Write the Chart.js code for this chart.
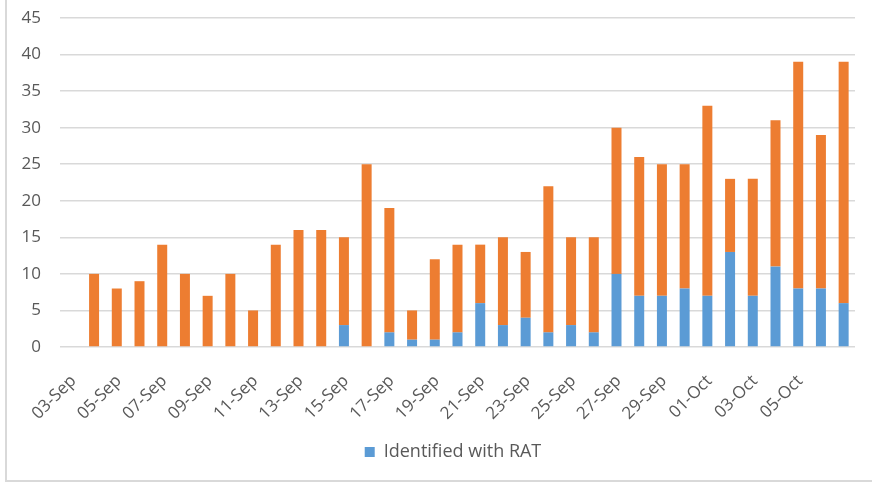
<!DOCTYPE html>
<html>
<head>
<meta charset="utf-8">
<script src="https://cdn.jsdelivr.net/npm/chart.js@4/dist/chart.umd.min.js"></script>
<style>
    body { margin: 0; background: #ffffff; }
    #wrap {
        position: absolute;
        left: 5px;
        top: 0;
        width: 867px;
        height: 480px;
        border-left: 2px solid #d9d9d9;
        border-bottom: 2px solid #d9d9d9;
    }
</style>
</head>
<body>
<div id="wrap"><canvas id="ratChart"></canvas></div>
<script>
// Categories (03-Sep .. 07-Oct)
const days = ['03-Sep', '04-Sep', '05-Sep', '06-Sep', '07-Sep', '08-Sep', '09-Sep', '10-Sep', '11-Sep', '12-Sep',
    '13-Sep', '14-Sep', '15-Sep', '16-Sep', '17-Sep', '18-Sep', '19-Sep', '20-Sep', '21-Sep', '22-Sep',
    '23-Sep', '24-Sep', '25-Sep', '26-Sep', '27-Sep', '28-Sep', '29-Sep', '30-Sep', '01-Oct', '02-Oct',
    '03-Oct', '04-Oct', '05-Oct', '06-Oct', '07-Oct'];

// Labels that are actually printed under the axis
const tickLabels = ['03-Sep', '', '05-Sep', '', '07-Sep', '', '09-Sep', '', '11-Sep', '', '13-Sep', '',
    '15-Sep', '', '17-Sep', '', '19-Sep', '', '21-Sep', '', '23-Sep', '', '25-Sep', '', '27-Sep', '',
    '29-Sep', '', '01-Oct', '', '03-Oct', '', '05-Oct', '', ''];

// Blue part of the bar
const ratCases = [null, 0, 0, 0, 0, 0, 0, 0, 0, 0, 0, 0, 3, 0, 2, 1, 1, 2, 6, 3, 4, 2, 3, 2,
    10, 7, 7, 8, 7, 13, 7, 11, 8, 8, 6];

// Orange part stacked on top
const otherCases = [null, 10, 8, 9, 14, 10, 7, 10, 5, 14, 16, 16, 12, 25, 17, 4, 11, 12, 8, 12, 9, 20, 12, 13,
    20, 19, 18, 17, 26, 10, 16, 20, 31, 21, 33];

const yTicks = [0, 5, 10, 15, 20, 25, 30, 35, 40, 45];

const textColor = '#595959';
const gridColor = '#d9d9d9';
const font = { family: "'Open Sans', sans-serif", size: 17 };

// Centre the legend under the plot area instead of the whole canvas
const legendShift = {
    id: 'legendShift',
    afterLayout(chart) {
        if (chart.legend) {
            chart.legend.left += 22;
            chart.legend.right += 22;
        }
    }
};

new Chart(document.getElementById('ratChart').getContext('2d'), {
    type: 'bar',
    data: {
        labels: days,
        datasets: [{
            label: 'Identified with RAT',
            data: ratCases,
            backgroundColor: '#5b9bd5',
            barPercentage: 0.44,
            categoryPercentage: 1
        }, {
            label: 'Other',
            data: otherCases,
            backgroundColor: '#ed7d31',
            barPercentage: 0.44,
            categoryPercentage: 1
        }]
    },
    options: {
        responsive: true,
        maintainAspectRatio: false,
        animation: false,
        layout: { padding: { top: 18, right: 19, bottom: 9, left: 0 } },
        plugins: {
            legend: {
                position: 'bottom',
                labels: {
                    color: textColor,
                    font: { family: font.family, size: 18 },
                    boxWidth: 10,
                    boxHeight: 10,
                    padding: 10,
                    filter: item => item.datasetIndex === 0
                }
            },
            tooltip: { enabled: false }
        },
        scales: {
            x: {
                stacked: true,
                grid: { display: false },
                border: { display: false },
                ticks: {
                    color: textColor,
                    font: font,
                    autoSkip: false,
                    minRotation: 45,
                    maxRotation: 45,
                    padding: 16,
                    labelOffset: 2,
                    callback: (value, index) => tickLabels[index]
                },
                afterFit: scale => {
                    scale.height = 86;
                    scale.paddingLeft = 0;
                    scale.paddingRight = 0;
                }
            },
            y: {
                stacked: true,
                min: 0,
                max: 45,
                afterBuildTicks: scale => { scale.ticks = yTicks.map(v => ({ value: v })); },
                grid: { color: gridColor, lineWidth: 1.5, tickColor: 'rgba(0,0,0,0)', tickLength: 19 },
                border: { display: false },
                ticks: { color: textColor, font: font, padding: 0 },
                afterFit: scale => { scale.width = 53; }
            }
        }
    },
    plugins: [legendShift]
});
</script>
</body>
</html>
